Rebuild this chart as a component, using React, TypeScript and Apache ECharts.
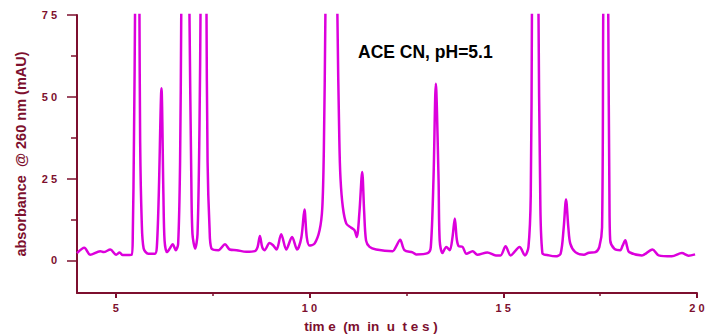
import React, { useEffect, useRef } from "react";
import * as echarts from "echarts";

// retention time (minutes)
const timeMin = [
  4.0, 4.19, 4.34, 4.6, 4.69, 4.86, 5.01, 5.1, 5.18, 5.41,
  5.44, 5.47, 5.5, 5.54, 5.61, 5.63, 5.67, 5.72, 5.84, 6.01,
  6.06, 6.11, 6.18, 6.23, 6.26, 6.32, 6.39, 6.47, 6.55,
  6.61, 6.66, 6.69, 6.78, 6.9, 6.95, 6.98, 7.05,
  7.11, 7.16, 7.19, 7.27, 7.34, 7.37, 7.42, 7.47, 7.65, 7.82, 7.94, 8.12,
  8.37, 8.59, 8.66, 8.72, 8.78, 8.84, 8.97, 9.06, 9.15, 9.27, 9.4, 9.55, 9.68,
  9.79, 9.87, 9.93, 10.0, 10.13, 10.26, 10.33, 10.37, 10.41, 10.56, 10.72,
  10.77, 10.8, 10.86, 10.95, 11.07, 11.16, 11.22, 11.29, 11.36, 11.41, 11.46,
  11.55, 11.72, 12.15, 12.23, 12.34, 12.45, 12.66, 12.75, 13.05,
  13.13, 13.2, 13.26, 13.33, 13.36, 13.43, 13.53, 13.62, 13.69, 13.75, 13.8,
  13.85, 13.95, 14.05, 14.21, 14.33, 14.59, 14.81, 14.93, 15.06, 15.19, 15.42,
  15.56, 15.65, 15.71, 15.74, 15.82, 15.91, 15.95, 16.01, 16.18, 16.35,
  16.48, 16.56, 16.62, 16.68, 16.73, 16.86, 17.08, 17.21, 17.38, 17.48,
  17.55, 17.58, 17.65, 17.71, 17.74, 17.76, 17.87, 18.02, 18.08, 18.15, 18.2,
  18.25, 18.58, 18.85, 19.01, 19.35, 19.61, 19.78, 19.95,
];

// absorbance at 260 nm (mAU)
const absorbance = [
  2.2, 3.8, 1.7, 2.8, 2.5, 3.3, 1.7, 2.4, 1.6, 1.7,
  8, 36.7, 80, 220, 80, 36, 12, 3.6, 2.0, 2.0,
  4, 20, 52.6, 20, 6, 2.5, 3.5, 4.9, 3.1,
  5, 30, 75, 250, 78, 25, 8, 3.6,
  8, 40, 80, 250, 80, 30, 10, 3.6, 3.1, 4.9, 3.3, 3.1,
  2.6, 2.8, 4, 7.4, 4, 3.1, 5.3, 4.6, 3.3, 8.0, 3.3, 7.1, 3.3,
  7, 15.5, 7, 4.5, 5.1, 9.2, 16, 33.7, 75, 300, 75,
  36.7, 25, 16.3, 11.2, 10, 9.2, 7.1, 15, 27, 15, 6,
  4.1, 3.3, 2.8, 4.1, 6.3, 3.1, 2.4, 1.8, 2.2,
  4, 25, 54, 25, 6, 2.2, 4.1, 3.1, 7, 12.8, 6.5,
  4.3, 4.1, 2.0, 2.8, 1.7, 2.4, 1.5, 1.5, 4.3, 1.5, 4.1,
  1.5, 4, 20, 75, 250, 75, 25, 2.2, 1.5, 1.2,
  2.0, 10, 18.6, 10, 5.1, 2.5, 1.7, 2.3, 2.5, 4.1,
  10, 75, 200, 75, 20, 6.1, 3.5, 3.1, 4.5, 6.1, 4,
  2.5, 1.5, 3.3, 1.5, 1.2, 2.2, 1.4, 1.8,
];

const xMajorTicks = [5, 10, 15, 20];
const xMinorTicks = [7.5, 12.5, 17.5];
const yMajorTicks = [0, 25, 50, 75];
const yMinorTicks = [12.5, 37.5, 62.5];

const AXIS_COLOR = "#7d0f2e";
const LINE_COLOR = "#dc00dc";
const FONT = "'Liberation Sans', Arial, sans-serif";

const spaced = (v: number) => String(v).split("").join(" ");

export default function App() {
  const ref = useRef<HTMLDivElement>(null);
  useEffect(() => {
    document.body.style.margin = "0";
    if (!ref.current) return;
    const chart = echarts.init(ref.current, null, { renderer: "svg" });
    const data = timeMin.map((t, i) => [t, absorbance[i]]);
    const labelStyle = {
      color: AXIS_COLOR,
      fontFamily: FONT,
      fontWeight: "bold" as const,
      fontSize: 11,
    };
    chart.setOption({
      animation: false,
      backgroundColor: "#ffffff",
      grid: { left: 77, right: 8, top: 15, bottom: 41, containLabel: false, outerBoundsMode: "none" },
      xAxis: [
        {
          type: "value",
          min: 4,
          max: 20,
          position: "bottom",
          axisLine: { show: true, onZero: false, lineStyle: { color: AXIS_COLOR, width: 2 } },
          axisTick: { show: true, customValues: xMajorTicks, length: 5, lineStyle: { color: AXIS_COLOR, width: 2 } },
          axisLabel: { show: true, customValues: xMajorTicks, formatter: (v: number) => spaced(v), margin: 9, ...labelStyle },
          splitLine: { show: false },
        },
        {
          type: "value",
          min: 4,
          max: 20,
          position: "bottom",
          axisLine: { show: false, onZero: false },
          axisTick: { show: true, customValues: xMinorTicks, length: 3, lineStyle: { color: AXIS_COLOR, width: 1.5 } },
          axisLabel: { show: false },
          splitLine: { show: false },
        },
      ],
      yAxis: [
        {
          type: "value",
          min: -10,
          max: 75,
          position: "left",
          axisLine: { show: true, onZero: false, lineStyle: { color: AXIS_COLOR, width: 2 } },
          axisTick: { show: true, customValues: yMajorTicks, length: 10, lineStyle: { color: AXIS_COLOR, width: 1.5 } },
          axisLabel: { show: true, customValues: yMajorTicks, formatter: (v: number) => spaced(v), margin: 20, ...labelStyle },
          splitLine: { show: false },
        },
        {
          type: "value",
          min: -10,
          max: 75,
          position: "left",
          axisLine: { show: false, onZero: false },
          axisTick: { show: true, customValues: yMinorTicks, length: 6, lineStyle: { color: AXIS_COLOR, width: 1.5 } },
          axisLabel: { show: false },
          splitLine: { show: false },
        },
      ],
      graphic: [
        {
          type: "text",
          x: 21,
          y: 154,
          rotation: Math.PI / 2,
          style: {
            text: "absorbance  @ 260 nm (mAU)",
            fill: AXIS_COLOR,
            font: `bold 14.5px ${FONT}`,
            align: "center",
            verticalAlign: "middle",
          },
        },
        {
          type: "text",
          x: 371,
          y: 326,
          style: {
            text: "tim e  (m  in  u  t e s )",
            fill: AXIS_COLOR,
            font: `bold 13.5px ${FONT}`,
            align: "center",
            verticalAlign: "middle",
          },
        },
        {
          type: "text",
          x: 358,
          y: 52,
          style: {
            text: "ACE CN, pH=5.1",
            fill: "#000000",
            font: `bold 17.5px ${FONT}`,
            align: "left",
            verticalAlign: "middle",
          },
        },
      ],
      series: [
        {
          type: "line",
          xAxisIndex: 0,
          yAxisIndex: 0,
          data,
          showSymbol: false,
          smooth: 0.3,
          clip: true,
          lineStyle: { color: LINE_COLOR, width: 2.5 },
        },
      ],
    });
    return () => chart.dispose();
  }, []);
  return <div ref={ref} style={{ width: 705, height: 334 }} />;
}
